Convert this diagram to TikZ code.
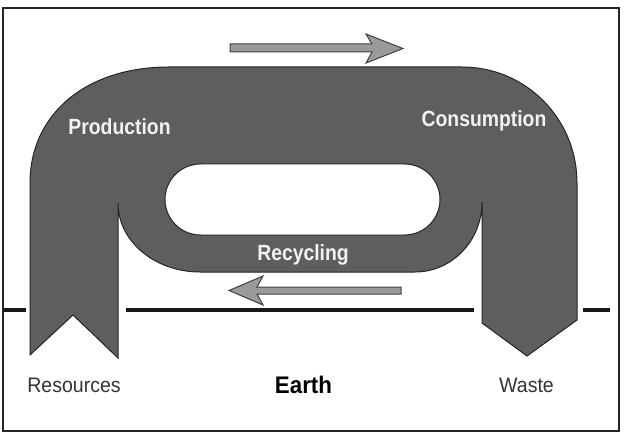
\documentclass[tikz,border=0pt]{standalone}
\usepackage{fontspec}
\setmainfont{Liberation Sans}
\newfontfamily\condfont[FakeStretch=0.88]{Liberation Sans}
\newfontfamily\semicondfont[FakeStretch=0.93]{Liberation Sans}
\definecolor{flow}{HTML}{5E5E5E}
\definecolor{arrfill}{HTML}{9A9A9A}
\definecolor{arrline}{HTML}{404040}
\definecolor{lbl}{HTML}{F2F2F2}
\definecolor{dark}{HTML}{333333}
\tikzset{
  flowshape/.style={fill=flow, draw=black!85, line width=1pt, line join=miter},
  holeshape/.style={fill=white, draw=black!85, line width=1pt},
  bigarrow/.style={fill=arrfill, draw=arrline, line width=1pt, line join=miter},
  earthline/.style={draw=black!90, line width=3.2pt},
  inlabel/.style={text=lbl, font=\condfont\fontsize{22}{26}\selectfont\bfseries, anchor=base, inner sep=0pt},
  outlabel/.style={text=dark, font=\semicondfont\fontsize{21}{25}\selectfont, anchor=base, inner sep=0pt},
  earthlabel/.style={text=black, font=\semicondfont\fontsize{24}{28}\selectfont\bfseries, anchor=base, inner sep=0pt}
}
\begin{document}
\begin{tikzpicture}[x=1pt,y=-1pt]
\useasboundingbox (0,0) rectangle (627,433);
% frame
\draw[line width=1.8pt, black!85] (3,8) rectangle (619,431);
% earth line
\coordinate (l0) at (3,310);
\coordinate (l1) at (26,310);
\coordinate (l2) at (126,310);
\coordinate (l3) at (474,310);
\coordinate (l4) at (583,310);
\coordinate (l5) at (610,310);
\draw[earthline] (l0) -- (l1);
\draw[earthline] (l2) -- (l3);
\draw[earthline] (l4) -- (l5);
% flow shape
\path[flowshape]
  (30,355) -- (30,183)
  .. controls (30,115) and (85,67) .. (169,67)
  -- (462,67)
  .. controls (526.1,67) and (577,118.9) .. (577,183)
  -- (577,320) -- (527,356) -- (482,323) -- (482,202)
  .. controls (482,240.7) and (452,272) .. (415,272)
  -- (200,272)
  .. controls (154.7,272) and (118,241.1) .. (118,203)
  -- (118,358) -- (73,315) -- cycle;
% hole
\path[holeshape, rounded corners=35.5pt] (165,164) rectangle (440,235);
% arrows
\path[bigarrow] (230,44) -- (372,44) -- (366,34) -- (403,48.5) -- (366,63) -- (372,52) -- (230,52) -- cycle;
\path[bigarrow] (401,287) -- (257,287) -- (263,276) -- (229,290.5) -- (263,305) -- (257,294) -- (401,294) -- cycle;
% labels
\node[inlabel] (prod) at (119.5,135) {Production};
\node[inlabel] (cons) at (484,127) {Consumption};
\node[inlabel] (recy) at (303,260) {Recycling};
\node[outlabel] (res) at (74,392) {Resources};
\node[earthlabel] (earth) at (303.5,393) {Earth};
\node[outlabel] (waste) at (526.5,392) {Waste};
\end{tikzpicture}
\end{document}
